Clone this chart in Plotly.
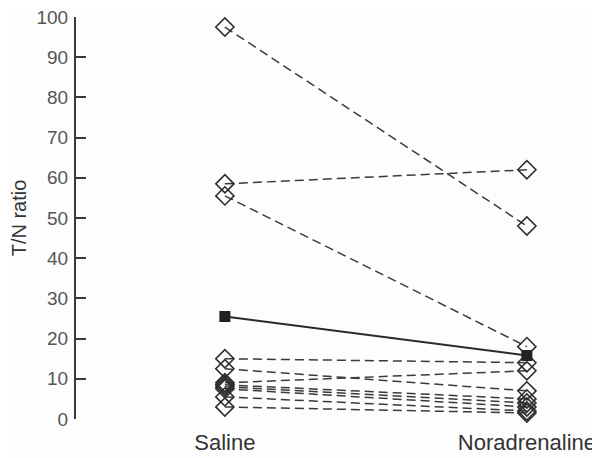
import plotly.graph_objects as go

categories = ["Saline", "Noradrenaline"]
saline = [97.5, 58.5, 55.5, 15, 12.5, 9, 8.5, 8, 7.5, 5.5, 3]
noradrenaline = [48, 62, 18, 14, 7, 12, 5, 4, 3, 2, 1.5]
mean_values = [25.5, 15.8]
y_ticks = [0, 10, 20, 30, 40, 50, 60, 70, 80, 90, 100]

xs, ys = [], []
for s, n in zip(saline, noradrenaline):
    xs += [0, 1, None]
    ys += [s, n, None]

fig = go.Figure()
fig.add_trace(go.Scatter(
    x=xs, y=ys, mode="lines",
    line=dict(color="#3a3a3a", width=1.5, dash="9px,5px"),
    hoverinfo="skip", showlegend=False, cliponaxis=False))
fig.add_trace(go.Scatter(
    x=[0] * len(saline) + [1] * len(noradrenaline),
    y=saline + noradrenaline, mode="markers",
    marker=dict(symbol="diamond-open", size=14, color="#2e2e2e",
                line=dict(width=1.6, color="#2e2e2e")),
    showlegend=False, cliponaxis=False))
fig.add_trace(go.Scatter(
    x=[0, 1], y=mean_values, mode="lines+markers",
    line=dict(color="#2a2a2a", width=2),
    marker=dict(symbol="square", size=11, color="#222222"),
    showlegend=False, cliponaxis=False))

fig.update_layout(
    width=592, height=450,
    margin=dict(l=68, r=10, t=9, b=39),
    paper_bgcolor="#fdfdfd", plot_bgcolor="#fdfdfd",
    font=dict(family="Liberation Sans, Arial, sans-serif", color="#3a3a3a"),
    xaxis=dict(range=[-0.493, 1.209], tickvals=[0, 1], ticktext=categories,
               showgrid=False, zeroline=False, showline=False, ticks="",
               automargin=False, ticklabeloverflow="allow",
               tickfont=dict(size=22, color="#333"), ticklabelstandoff=8),
    yaxis=dict(range=[0, 100], tickvals=y_ticks, showgrid=False, zeroline=False,
               showline=True, linecolor="#3a3a3a", linewidth=2,
               ticks="inside", ticklen=10, tickwidth=2, tickcolor="#3a3a3a",
               automargin=False, ticklabelstandoff=2, ticklabeloverflow="allow",
               tickfont=dict(size=19, color="#555"),
               title=dict(text="T/N ratio", font=dict(size=20, color="#333"), standoff=4)),
)
fig.write_html("out.html")
